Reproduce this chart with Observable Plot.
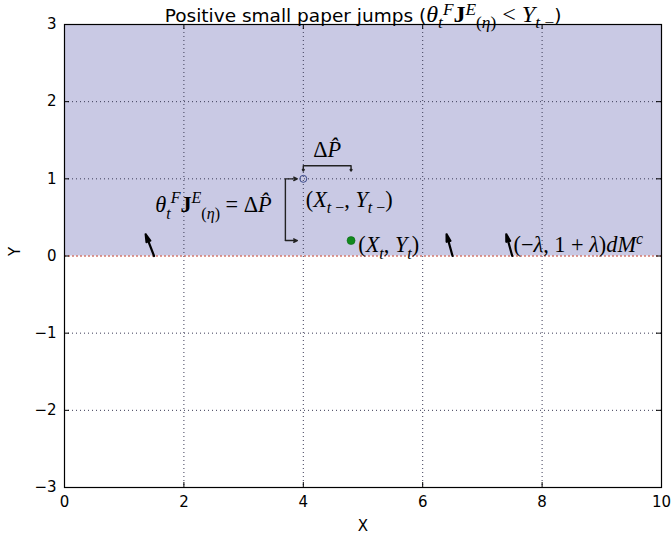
<!DOCTYPE html>
<html><head><meta charset="utf-8">
<script src="https://cdn.jsdelivr.net/npm/d3@7"></script>
<script src="https://cdn.jsdelivr.net/npm/@observablehq/plot@0.6"></script>
<style>body{margin:0;background:#fff} #chart svg{font-family:"DejaVu Sans",sans-serif;background:#fff}</style>
</head><body><div id="chart"></div>
<script>
// ---- data ----
const xTicks = [0, 2, 4, 6, 8, 10];
const yTicks = [-3, -2, -1, 0, 1, 2, 3];
const xGrid = [2, 4, 6, 8];
const yGrid = [-2, -1, 1, 2];
const region = [{x1: 0, x2: 10, y1: 0, y2: 3}];
const boundary = [0];
const prePoint = [{x: 4, y: 1}];
const postPoint = [{x: 4.8, y: 0.2}];
const quivers = [
  {x: 1.5, y: 0, u: -0.14, v: 0.28},
  {x: 6.5, y: 0, u: -0.1, v: 0.28},
  {x: 7.5, y: 0, u: -0.1, v: 0.28}
];
const bracketSpine = [{x1: 3.7, y1: 1, x2: 3.7, y2: 0.2}];
const bracketArrows = [
  {x1: 3.7, y1: 1, x2: 3.9, y2: 1},
  {x1: 3.7, y1: 0.2, x2: 3.9, y2: 0.2}
];
const jumpBar = [{x1: 4, x2: 4.8, y: 1.17}];
const jumpArrows = [
  {x1: 4, y1: 1.17, x2: 4, y2: 1.1},
  {x1: 4.8, y1: 1.17, x2: 4.8, y2: 1.1}
];
const centerLabels = [
  {x: 4.4, y: 1.36, text: "$ΔP̂$"}
];
const startLabels = [
  {x: 1.52, y: 0.65, text: "$θ_{t}^{F}\\B{J}^{E}_{(η)} = ΔP̂$"},
  {x: 4.04, y: 0.72, text: "$(X_{t −}, Y_{t −})$"},
  {x: 4.92, y: 0.13, text: "$(X_{t}, Y_{t})$"},
  {x: 7.52, y: 0.13, text: "$(−λ, 1 + λ)dM^{c}$"}
];
const title = ["Positive small paper jumps ($θ_{t}^{F}\\B{J}^{E}_{(η)} < Y_{t −}$)"];
const xLabel = ["X"];
const yLabel = ["Y"];

const W = 671, H = 541, mL = 64, mR = 10, mT = 24, mB = 54;
const fw = W - mL - mR, fh = H - mT - mB;
const fmt = d => d < 0 ? "\u2212" + Math.abs(d) : String(d);

const chart = Plot.plot({
  width: W, height: H,
  marginLeft: mL, marginRight: mR, marginTop: mT, marginBottom: mB,
  style: {fontFamily: "DejaVu Sans", fontSize: "15px", color: "#000", background: "#fff"},
  x: {domain: [0, 10], axis: null},
  y: {domain: [-3, 3], axis: null},
  marks: [
    Plot.rect(region, {x1: "x1", x2: "x2", y1: "y1", y2: "y2", fill: "#c9c9e4"}),
    Plot.ruleX(xGrid, {stroke: "#3a3a55", strokeDasharray: "1,3", strokeWidth: 1}),
    Plot.ruleY(yGrid, {stroke: "#3a3a55", strokeDasharray: "1,3", strokeWidth: 1}),
    Plot.ruleY(boundary, {stroke: "#c0392b", strokeDasharray: "2,2", strokeWidth: 1}),
    // tick marks inside the frame
    Plot.ruleX(xTicks, {stroke: "#000", insetTop: fh - 5}),
    Plot.ruleX(xTicks, {stroke: "#000", insetBottom: fh - 5}),
    Plot.ruleY(yTicks, {stroke: "#000", insetRight: fw - 5}),
    Plot.ruleY(yTicks, {stroke: "#000", insetLeft: fw - 5}),
    Plot.axisX(xTicks, {tickSize: 0, tickPadding: 9, fontSize: 15, label: null, tickFormat: fmt}),
    Plot.axisY(yTicks, {tickSize: 0, tickPadding: 8, fontSize: 15, label: null, tickFormat: fmt}),
    Plot.frame({stroke: "#000", strokeWidth: 1.2}),
    // quiver arrows
    Plot.arrow(quivers, {x1: "x", y1: "y", x2: d => d.x + d.u, y2: d => d.y + d.v,
      stroke: "#000", strokeWidth: 2.2, headLength: 8, headAngle: 30}),
    // bracket annotation
    Plot.link(bracketSpine, {x1: "x1", y1: "y1", x2: "x2", y2: "y2", stroke: "#222", strokeWidth: 1.4}),
    Plot.arrow(bracketArrows, {x1: "x1", y1: "y1", x2: "x2", y2: "y2", stroke: "#222", strokeWidth: 1.4, headLength: 8, headAngle: 50}),
    // jump bar
    Plot.link(jumpBar, {x1: "x1", x2: "x2", y1: "y", y2: "y", stroke: "#222", strokeWidth: 1.4}),
    Plot.arrow(jumpArrows, {x1: "x1", y1: "y1", x2: "x2", y2: "y2", stroke: "#222", strokeWidth: 1.4, headLength: 6, headAngle: 60}),
    // points
    Plot.dot(prePoint, {x: "x", y: "y", r: 3.5, stroke: "#3c4a8a", fill: "none", strokeWidth: 1}),
    Plot.dot(postPoint, {x: "x", y: "y", r: 4, fill: "#118a1e", stroke: "#0a6a14", strokeWidth: 0.6}),
    // labels
    Plot.text(centerLabels, {x: "x", y: "y", text: "text", textAnchor: "middle", fontSize: 20}),
    Plot.text(startLabels, {x: "x", y: "y", text: "text", textAnchor: "start", fontSize: 20}),
    Plot.text(title, {frameAnchor: "top", dy: -15, text: d => d, fontSize: 18}),
    Plot.text(xLabel, {frameAnchor: "bottom", dy: 43, text: d => d, fontSize: 15}),
    Plot.text(yLabel, {frameAnchor: "left", dx: -49, rotate: -90, text: d => d, fontSize: 15})
  ]
});
document.getElementById("chart").appendChild(chart);

// ---- render simple math markup as tspans ----
function tokens(src) {
  const res = []; let math = false; let i = 0;
  while (i < src.length) {
    const c = src[i];
    if (c === "$") { math = !math; i++; continue; }
    if ((c === "_" || c === "^") && src[i + 1] === "{") {
      const j = src.indexOf("}", i);
      for (const ch of src.slice(i + 2, j)) res.push({t: ch, pos: c === "_" ? "sub" : "sup", math, bold: false});
      i = j + 1; continue;
    }
    if (src.startsWith("\\B{", i)) {
      const j = src.indexOf("}", i);
      for (const ch of src.slice(i + 3, j)) res.push({t: ch, pos: "base", math, bold: true});
      i = j + 1; continue;
    }
    if (/[\u0300-\u036f]/.test(c) && res.length) { res[res.length - 1].t += c; i++; continue; }
    res.push({t: c, pos: "base", math, bold: false}); i++;
  }
  return res;
}
d3.select(chart).selectAll("text").each(function() {
  const el = this;
  const src = el.textContent;
  if (!src.includes("$")) return;
  const isTitle = src.startsWith("Positive");
  const base = isTitle ? 18.5 : 21;
  const mathScale = isTitle ? 1.3 : 1.06;
  while (el.firstChild) el.removeChild(el.firstChild);
  const shift = {base: 0, sub: 0.3 * base, sup: -0.42 * base};
  let cur = 0;
  for (const tk of tokens(src)) {
    const ts = document.createElementNS("http://www.w3.org/2000/svg", "tspan");
    ts.textContent = tk.t;
    const target = shift[tk.pos];
    if (target !== cur) { ts.setAttribute("dy", (target - cur).toFixed(2)); cur = target; }
    ts.setAttribute("font-size", ((tk.pos !== "base" ? 0.72 : 1) * base * (tk.math ? mathScale : 1)).toFixed(1) + "px");
    if (tk.math) {
      ts.setAttribute("font-family", "Liberation Serif, DejaVu Serif, serif");
      if (tk.bold) ts.setAttribute("font-weight", "bold");
      else if (/[A-Za-zα-ωθηλ]/.test(tk.t)) ts.setAttribute("font-style", "italic");
    } else {
      ts.setAttribute("font-family", "DejaVu Sans");
    }
    el.appendChild(ts);
  }
});
</script>
</body></html>
